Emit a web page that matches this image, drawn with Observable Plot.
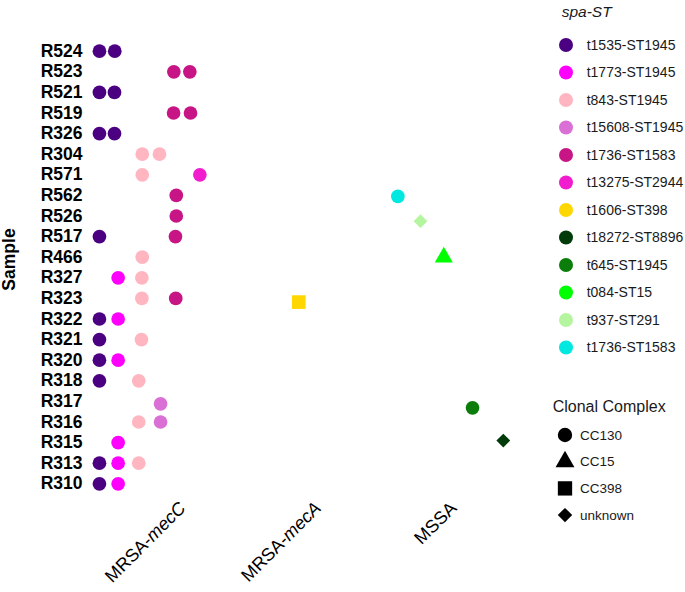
<!DOCTYPE html>
<html>
<head>
<meta charset="utf-8">
<script src="https://cdn.jsdelivr.net/npm/d3@7"></script>
<script src="https://cdn.jsdelivr.net/npm/@observablehq/plot@0.6"></script>
<style>
  html, body { margin: 0; padding: 0; background: #fff; }
  #wrap { position: relative; width: 685px; height: 592px; font-family: "Liberation Sans", Arial, sans-serif; }
  #legend { position: absolute; left: 0; top: 0; pointer-events: none; }
</style>
</head>
<body>
<div id="wrap"></div>
<script>
// ---- categories ----
const samples = ["R524","R523","R521","R519","R326","R304","R571","R562","R526","R517","R466",
                 "R327","R323","R322","R321","R320","R318","R317","R316","R315","R313","R310"];
const groups = ["MRSA-mecC","MRSA-mecA","MSSA"];
const spaTypes = ["t1535-ST1945","t1773-ST1945","t843-ST1945","t15608-ST1945","t1736-ST1583",
                  "t13275-ST2944","t1606-ST398","t18272-ST8896","t645-ST1945","t084-ST15",
                  "t937-ST291","t1736-ST1583"];
const spaColors = ["#4B0082","#FF00FF","#FFB6C1","#DA70D6","#C71585","#F21CCF",
                   "#FFD700","#023B0A","#0A7D0A","#00FF00","#B5F5A0","#00E8E0"];
const ccLevels = ["CC130","CC15","CC398","unknown"];
const ccShapes = ["circle","triangle","square","diamond2"];

// ---- points (one per isolate): sample, group, spa-type index, clonal complex, jitter ----
const ptSample = ["R524","R524","R523","R523","R521","R521","R519","R519","R326","R326",
                  "R304","R304","R571","R571","R562","R562","R526","R526","R517","R517",
                  "R466","R466","R327","R327","R323","R323","R323","R322","R322","R321","R321",
                  "R320","R320","R318","R318","R317","R317","R316","R316","R315","R315",
                  "R313","R313","R313","R310","R310"];
const ptGroup  = ["MRSA-mecC","MRSA-mecC","MRSA-mecC","MRSA-mecC","MRSA-mecC","MRSA-mecC","MRSA-mecC","MRSA-mecC","MRSA-mecC","MRSA-mecC",
                  "MRSA-mecC","MRSA-mecC","MRSA-mecC","MRSA-mecC","MRSA-mecC","MSSA","MRSA-mecC","MSSA","MRSA-mecC","MRSA-mecC",
                  "MRSA-mecC","MSSA","MRSA-mecC","MRSA-mecC","MRSA-mecC","MRSA-mecC","MRSA-mecA","MRSA-mecC","MRSA-mecC","MRSA-mecC","MRSA-mecC",
                  "MRSA-mecC","MRSA-mecC","MRSA-mecC","MRSA-mecC","MRSA-mecC","MSSA","MRSA-mecC","MRSA-mecC","MRSA-mecC","MSSA",
                  "MRSA-mecC","MRSA-mecC","MRSA-mecC","MRSA-mecC","MRSA-mecC"];
const ptSpa    = [0,0, 4,4, 0,0, 4,4, 0,0,
                  2,2, 2,5, 4,11, 4,10, 0,4,
                  2,9, 1,2, 2,4,6, 0,1, 0,2,
                  0,1, 0,2, 3,8, 2,3, 1,7,
                  0,1,2, 0,1];
const ptCC     = ["CC130","CC130","CC130","CC130","CC130","CC130","CC130","CC130","CC130","CC130",
                  "CC130","CC130","CC130","CC130","CC130","CC130","CC130","unknown","CC130","CC130",
                  "CC130","CC15","CC130","CC130","CC130","CC130","CC398","CC130","CC130","CC130","CC130",
                  "CC130","CC130","CC130","CC130","CC130","CC130","CC130","CC130","CC130","unknown",
                  "CC130","CC130","CC130","CC130","CC130"];
const ptXJitter = [-0.613,-0.500, -0.064,0.054, -0.613,-0.502, -0.066,0.059, -0.613,-0.502,
                   -0.297,-0.170, -0.297,0.128, -0.046,-0.411, -0.046,-0.244, -0.613,-0.052,
                   -0.297,-0.072, -0.475,-0.300, -0.300,-0.050,-0.142, -0.613,-0.475, -0.613,-0.303,
                   -0.613,-0.475, -0.613,-0.323, -0.162,0.140, -0.323,-0.162, -0.475,0.367,
                   -0.613,-0.475,-0.323, -0.613,-0.475];
const ptYJitter = [0,0, 0,0, 0,0, 0,0, 0,0,
                   0,0, 0,0, 0,0.05, 0,0.25, 0,0,
                   0,0, 0,0, 0,0,0.18, 0,0, 0,0,
                   0,0, 0,0, 0.12,0.31, 0,0, 0,-0.1,
                   0,0,0, 0,0];

const points = ptSample.map((s, i) => ({
  sample: s,
  yv: samples.indexOf(s) + ptYJitter[i],
  xv: groups.indexOf(ptGroup[i]) + ptXJitter[i],
  spa: ptSpa[i],
  cc: ptCC[i]
}));

const ccRadius = {"CC130": 6.85, "CC15": 6.7, "CC398": 7.7, "unknown": 6.2};

const chart = Plot.plot({
  width: 685,
  height: 592,
  marginLeft: 90,
  marginRight: 165,
  marginTop: 40.4,
  marginBottom: 98.4,
  style: {fontFamily: "'Liberation Sans', Arial, sans-serif", background: "white", color: "black"},
  x: {domain: [-0.679, 2.494]},
  y: {domain: [-0.5, samples.length - 0.5], reverse: true},
  color: {type: "ordinal", domain: d3.range(spaTypes.length), range: spaColors},
  symbol: {domain: ccLevels, range: ccShapes},
  marks: [
    Plot.axisX({ticks: d3.range(groups.length), tickFormat: i => groups[i], tickSize: 0, tickPadding: 11,
                tickRotate: -45, fontSize: 18, label: null}),
    Plot.axisY({ticks: d3.range(samples.length), tickFormat: i => samples[i], tickSize: 0, tickPadding: 8,
                fontSize: 17.5, fontWeight: "bold", label: null}),
    Plot.axisY({ticks: [], label: "Sample", labelAnchor: "center", labelArrow: "none", labelOffset: 88,
                fontSize: 17, fontWeight: "bold"}),
    ...ccLevels.map(cc => Plot.dot(points.filter(d => d.cc === cc), {
      x: "xv", y: "yv", fill: "spa", symbol: "cc", r: ccRadius[cc]
    }))
  ]
});

// italic gene names in x tick labels
d3.select(chart).selectAll('g[aria-label="x-axis tick label"] text').each(function() {
  const t = this.textContent;
  const m = t.match(/^(MRSA-)(mec.)$/);
  if (m) {
    this.textContent = "";
    d3.select(this).append("tspan").text(m[1]);
    d3.select(this).append("tspan").attr("font-style", "italic").text(m[2]);
  }
});
// y-axis title styling
d3.select(chart).selectAll('g[aria-label="y-axis label"]').each(function() {
  const g = d3.select(this);
  const tr = g.attr("transform") || "";
  g.attr("transform", `translate(0,-8) ${tr}`).attr("font-size", 17.5).attr("font-weight", "bold");
  g.selectAll("text").attr("font-size", 17.5).attr("font-weight", "bold");
});

const wrap = document.getElementById("wrap");
wrap.appendChild(chart);

// ---- legends ----
const lg = d3.select(wrap).append("svg").attr("id", "legend")
  .attr("width", 685).attr("height", 592)
  .style("font-family", "'Liberation Sans', Arial, sans-serif");

lg.append("text").attr("x", 561.7).attr("y", 11.7).attr("dy", "0.35em")
  .attr("font-size", 15.5).attr("font-style", "italic").attr("fill", "#1a1a1a").text("spa-ST");

const spaRows = lg.selectAll("g.spa").data(spaTypes).join("g").attr("class", "spa")
  .attr("transform", (d, i) => `translate(0,${45 + i * 27.5})`);
spaRows.append("circle").attr("cx", 566).attr("cy", 0).attr("r", 7)
  .attr("fill", (d, i) => spaColors[i]);
spaRows.append("text").attr("x", 586.7).attr("y", 0).attr("dy", "0.35em")
  .attr("font-size", 14).attr("fill", "#1a1a1a").text(d => d);

lg.append("text").attr("x", 552.7).attr("y", 406).attr("dy", "0.35em")
  .attr("font-size", 16).attr("fill", "#1a1a1a").text("Clonal Complex");

const symMap = {circle: d3.symbolCircle, triangle: d3.symbolTriangle, square: d3.symbolSquare, diamond2: d3.symbolDiamond2};
const ccRows = lg.selectAll("g.cc").data(ccLevels).join("g").attr("class", "cc")
  .attr("transform", (d, i) => `translate(0,${435 + i * 26.7})`);
ccRows.append("path").attr("transform", "translate(565,0)")
  .attr("d", (d, i) => d3.symbol(symMap[ccShapes[i]], Math.PI * ccRadius[d] * ccRadius[d] * 1.1)())
  .attr("fill", "black");
ccRows.append("text").attr("x", 580).attr("y", 0).attr("dy", "0.35em")
  .attr("font-size", 13.5).attr("fill", "#1a1a1a").text(d => d);
</script>
</body>
</html>
